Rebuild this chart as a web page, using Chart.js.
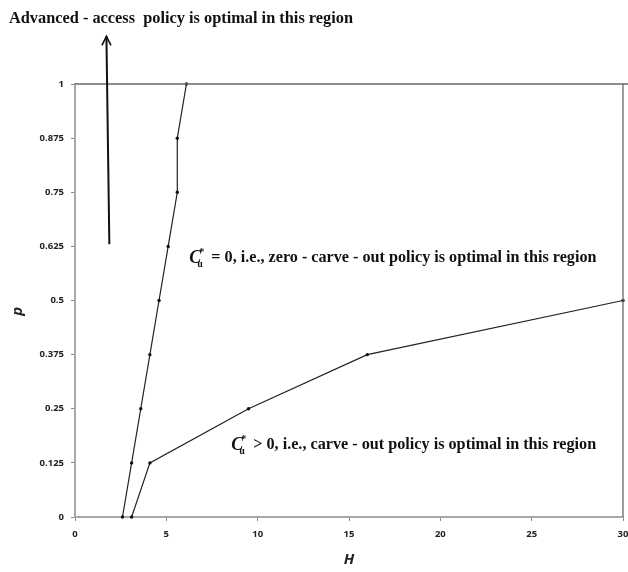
<!DOCTYPE html>
<html>
<head>
<meta charset="utf-8">
<script src="https://cdn.jsdelivr.net/npm/chart.js@4.4.1/dist/chart.umd.min.js"></script>
<style>
  html, body { margin: 0; padding: 0; background: #ffffff; }
  canvas { display: block; }
</style>
</head>
<body>
<canvas id="regions" width="628" height="572"></canvas>
<script>
// Probability levels on the vertical axis
const pLevels = [0, 0.125, 0.25, 0.375, 0.5, 0.625, 0.75, 0.875, 1];
// Boundary between advanced-access and zero-carve-out regions (H for each p level)
const zeroCarveOutH = [2.6, 3.1, 3.6, 4.1, 4.6, 5.1, 5.6, 5.6, 6.1];
// Boundary between zero-carve-out and carve-out regions
const carveOutH = [3.1, 4.1, 9.5, 16, 30];
const carveOutP = [0, 0.125, 0.25, 0.375, 0.5];
// Tick labels
const xTickLabels = ['0', '5', '10', '15', '20', '25', '30'];
const yTickLabels = ['0', '0.125', '0.25', '0.375', '0.5', '0.625', '0.75', '0.875', '1'];

const SERIF = '"Liberation Serif", "DejaVu Serif", serif';
const SANS = '"Open Sans", "Liberation Sans", sans-serif';

// Draw text scaled so it spans exactly the given width
function fitText(ctx, text, x, y, width, style, family, baseSize) {
  ctx.font = style + ' ' + baseSize + 'px ' + family;
  const w = ctx.measureText(text).width;
  const size = baseSize * width / w;
  ctx.font = style + ' ' + size.toFixed(2) + 'px ' + family;
  ctx.fillText(text, x, y);
}

// "C*_u" followed by the rest of the statement
function regionLabel(ctx, x, y, rest, restStart, endX) {
  ctx.font = 'italic bold 18px ' + SERIF;
  ctx.fillText('C', x, y);
  const wC = ctx.measureText('C').width;
  ctx.font = 'bold 10px ' + SERIF;
  ctx.fillText('*', x + wC - 2, y - 6);
  ctx.fillText('u', x + wC - 4, y + 6);
  fitText(ctx, rest, restStart, y, endX - restStart, 'bold', SERIF, 14);
}

const annotations = {
  id: 'annotations',
  beforeDraw(chart) {
    const ctx = chart.ctx;
    ctx.save();
    ctx.fillStyle = '#ffffff';
    ctx.fillRect(0, 0, chart.width, chart.height);
    ctx.restore();
  },
  afterDraw(chart) {
    const { ctx, chartArea, scales: { x, y } } = chart;
    ctx.save();
    // frame on the top and right sides of the plot
    ctx.strokeStyle = '#6a6a6a';
    ctx.lineWidth = 1.3;
    ctx.beginPath();
    ctx.moveTo(chartArea.left, chartArea.top);
    ctx.lineTo(chart.width, chartArea.top);
    ctx.moveTo(chartArea.right, chartArea.top);
    ctx.lineTo(chartArea.right, chartArea.bottom);
    ctx.stroke();

    // arrow pointing into the advanced-access region
    const ax0 = x.getPixelForValue(1.88), ay0 = y.getPixelForValue(0.63);
    const ax1 = x.getPixelForValue(1.72), ay1 = y.getPixelForValue(1.11);
    ctx.strokeStyle = '#111';
    ctx.lineWidth = 2;
    ctx.beginPath();
    ctx.moveTo(ax0, ay0);
    ctx.lineTo(ax1, ay1);
    ctx.stroke();
    ctx.lineWidth = 1.6;
    ctx.beginPath();
    ctx.moveTo(ax1 - 4.5, ay1 + 9);
    ctx.lineTo(ax1, ay1);
    ctx.lineTo(ax1 + 4.5, ay1 + 9);
    ctx.stroke();

    ctx.fillStyle = '#111';
    ctx.textBaseline = 'middle';
    ctx.textAlign = 'left';
    fitText(ctx, 'Advanced - access  policy is optimal in this region', 9, 19, 344, 'bold', SERIF, 15);

    const endX = x.getPixelForValue(28.55);
    const c1x = x.getPixelForValue(6.26), c1y = y.getPixelForValue(0.598);
    regionLabel(ctx, c1x, c1y, '= 0, i.e., zero - carve - out policy is optimal in this region', c1x + 22, endX);
    const c2x = x.getPixelForValue(8.55), c2y = y.getPixelForValue(0.166);
    regionLabel(ctx, c2x, c2y, '> 0, i.e., carve - out policy is optimal in this region', c2x + 22, endX);

    // vertical axis title
    ctx.fillStyle = '#222';
    ctx.font = 'italic bold 15px ' + SANS;
    ctx.textAlign = 'center';
    ctx.translate(18, y.getPixelForValue(0.475));
    ctx.rotate(-Math.PI / 2);
    ctx.fillText('p', 0, 0);
    ctx.restore();
  }
};

const lineStyle = {
  borderColor: '#222',
  borderWidth: 1.2,
  pointRadius: 1.7,
  pointBackgroundColor: '#111',
  pointBorderWidth: 0,
  tension: 0,
  clip: false
};

new Chart(document.getElementById('regions'), {
  type: 'line',
  data: {
    datasets: [
      Object.assign({ label: 'zero-carve-out boundary',
        data: zeroCarveOutH.map((h, i) => ({ x: h, y: pLevels[i] })) }, lineStyle),
      Object.assign({ label: 'carve-out boundary',
        data: carveOutH.map((h, i) => ({ x: h, y: carveOutP[i] })) }, lineStyle)
    ]
  },
  options: {
    responsive: false,
    animation: false,
    devicePixelRatio: 1,
    layout: { padding: { top: 84, right: 5, left: 0, bottom: 0 } },
    plugins: { legend: { display: false }, tooltip: { enabled: false } },
    scales: {
      x: {
        type: 'linear',
        min: 0, max: 30,
        ticks: {
          stepSize: 5,
          padding: 8,
          color: '#222',
          font: { family: SANS, size: 9.5, weight: 'bold' },
          callback: (v, i) => xTickLabels[i]
        },
        grid: { drawOnChartArea: false, drawTicks: true, tickLength: 4, color: '#888' },
        border: { color: '#a8a8a8', width: 2 },
        title: {
          display: true, text: 'H', color: '#222',
          font: { family: SANS, size: 15, style: 'italic', weight: 'bold' },
          padding: { top: 0, bottom: 3 }
        },
        afterFit(s) { s.height = 55; s.paddingLeft = 0; s.paddingRight = 0; }
      },
      y: {
        type: 'linear',
        min: 0, max: 1,
        ticks: {
          stepSize: 0.125,
          padding: 7,
          color: '#222',
          font: { family: SANS, size: 9.5, weight: 'bold' },
          callback: (v, i) => yTickLabels[i]
        },
        grid: { drawOnChartArea: false, drawTicks: true, tickLength: 4, color: '#888' },
        border: { color: '#a8a8a8', width: 2 },
        afterFit(s) { s.width = 75; s.paddingTop = 0; s.paddingBottom = 0; }
      }
    }
  },
  plugins: [annotations]
});
</script>
</body>
</html>
